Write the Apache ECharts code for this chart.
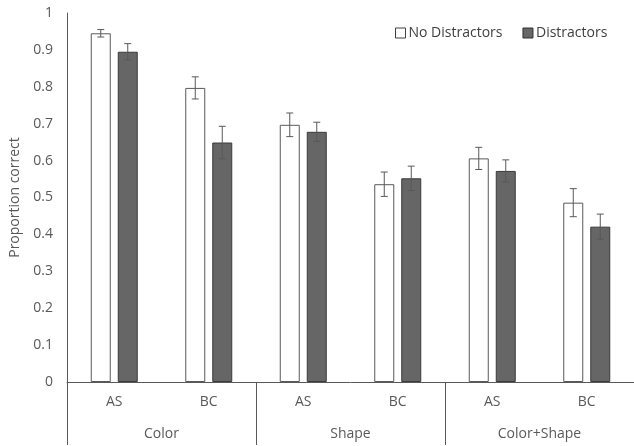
<!DOCTYPE html>
<html>
<head>
<meta charset="utf-8">
<script src="https://cdn.jsdelivr.net/npm/echarts@6/dist/echarts.min.js"></script>
<style>
html,body{margin:0;padding:0;background:#fff;overflow:hidden;}
#chart{width:634px;height:446px;}
</style>
</head>
<body>
<div id="chart"></div>
<script>
// Conditions along the x axis (inner level) and task groups (outer level)
var conditions = ['AS', 'BC', 'AS', 'BC', 'AS', 'BC'];
var groups = ['Color', 'Shape', 'Color+Shape'];
var seriesNames = ['No Distractors', 'Distractors'];

// Mean proportion correct per condition
var noDistractors = [0.945, 0.797, 0.697, 0.536, 0.606, 0.486];
var distractors   = [0.895, 0.649, 0.678, 0.552, 0.572, 0.421];

// Standard errors
var noDistractorsErr = [0.010, 0.030, 0.032, 0.033, 0.030, 0.038];
var distractorsErr   = [0.022, 0.044, 0.026, 0.033, 0.030, 0.034];

var BAR_W = 20;
var BAR_GAP = 6;
var FONT = 'Open Sans';
var FS = 14;

function errorSeries(values, errs, side) {
  var data = values.map(function (v, i) { return [i, v, errs[i]]; });
  return {
    type: 'custom',
    xAxisIndex: 0,
    yAxisIndex: 0,
    z: 10,
    silent: true,
    data: data,
    renderItem: function (params, api) {
      var idx = api.value(0), v = api.value(1), e = api.value(2);
      var hi = api.coord([idx, v + e]);
      var lo = api.coord([idx, v - e]);
      var dx = side * (BAR_W / 2 + BAR_GAP / 2 + 0.5);
      var x = hi[0] + dx;
      var cap = 3.5;
      var st = { stroke: '#595959', lineWidth: 1 };
      return {
        type: 'group',
        children: [
          { type: 'line', shape: { x1: x, y1: hi[1], x2: x, y2: lo[1] }, style: st },
          { type: 'line', shape: { x1: x - cap, y1: hi[1], x2: x + cap, y2: hi[1] }, style: st },
          { type: 'line', shape: { x1: x - cap, y1: lo[1], x2: x + cap, y2: lo[1] }, style: st }
        ]
      };
    }
  };
}

var chart = echarts.init(document.getElementById('chart'), null, { renderer: 'canvas' });
chart.setOption({
  animation: false,
  backgroundColor: '#ffffff',
  textStyle: { fontFamily: FONT },
  grid: { left: 67, top: 13, right: -4, bottom: 64, containLabel: false },
  legend: {
    left: 390,
    top: 21,
    itemWidth: 10,
    itemHeight: 10,
    itemGap: 20,
    icon: 'rect',
    textStyle: { fontFamily: FONT, fontSize: FS, color: '#404040', padding: [0, 0, 0, -2] },
    data: [
      { name: seriesNames[0], itemStyle: { color: '#ffffff', borderColor: '#404040', borderWidth: 1 } },
      { name: seriesNames[1], itemStyle: { color: '#666666', borderColor: '#303030', borderWidth: 1 } }
    ]
  },
  xAxis: [
    {
      type: 'category',
      data: conditions,
      position: 'bottom',
      axisLine: { show: true, lineStyle: { color: '#595959', width: 1 } },
      axisTick: { show: false },
      axisLabel: { margin: 13, fontFamily: FONT, fontSize: FS, color: '#595959' }
    },
    {
      type: 'category',
      data: groups,
      position: 'bottom',
      axisLine: { show: false },
      axisTick: { show: true, length: 63, interval: 0, lineStyle: { color: '#595959', width: 1 } },
      axisLabel: { margin: 45, fontFamily: FONT, fontSize: FS, color: '#595959' }
    }
  ],
  yAxis: {
    type: 'value',
    min: 0,
    max: 1,
    interval: 0.1,
    name: 'Proportion correct',
    nameLocation: 'middle',
    nameGap: 44,
    nameTextStyle: { fontFamily: FONT, fontSize: FS, color: '#595959' },
    axisLine: { show: true, lineStyle: { color: '#595959', width: 1 } },
    axisTick: { show: false },
    splitLine: { show: false },
    axisLabel: { margin: 14, fontFamily: FONT, fontSize: FS, color: '#595959' }
  },
  series: [
    {
      name: seriesNames[0],
      type: 'bar',
      xAxisIndex: 0,
      barWidth: BAR_W,
      barGap: ((BAR_GAP + 1) / BAR_W * 100) + '%',
      itemStyle: { color: '#ffffff', borderColor: '#595959', borderWidth: 1 },
      data: noDistractors
    },
    {
      name: seriesNames[1],
      type: 'bar',
      xAxisIndex: 0,
      barWidth: BAR_W,
      itemStyle: { color: '#666666', borderColor: '#3a3a3a', borderWidth: 1 },
      data: distractors
    },
    errorSeries(noDistractors, noDistractorsErr, -1),
    errorSeries(distractors, distractorsErr, 1)
  ]
});
</script>
</body>
</html>
